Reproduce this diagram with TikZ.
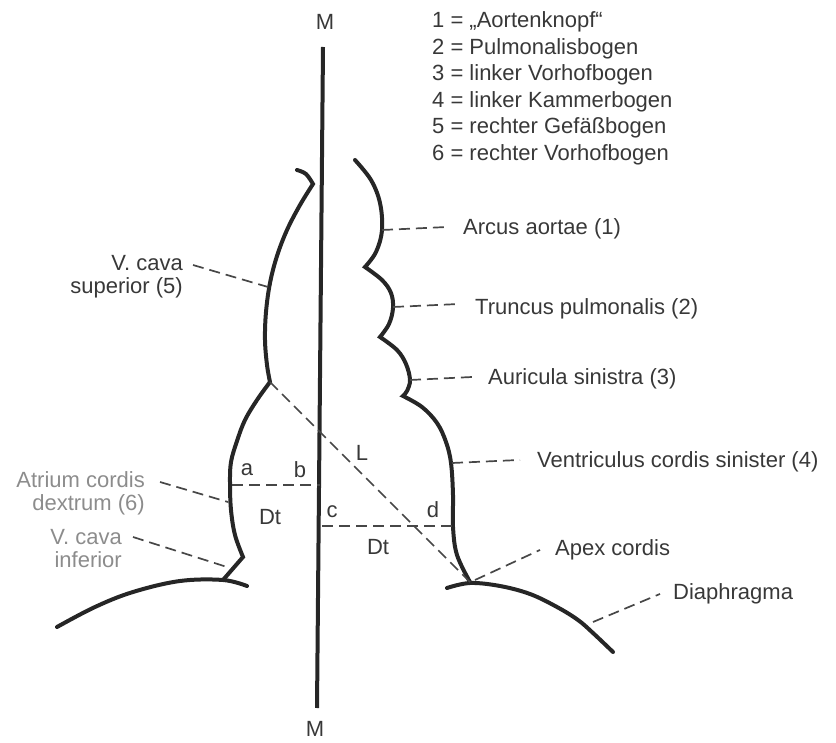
\documentclass[tikz,border=0pt]{standalone}
\usepackage{fontspec}
\setmainfont{Liberation Sans}
\usetikzlibrary{calc}
\definecolor{ink}{HTML}{262626}
\definecolor{txt}{HTML}{383838}
\definecolor{faded}{HTML}{8C8C8C}
\tikzset{
  contour/.style={draw=ink, line width=4pt, line join=miter, line cap=round},
  guide/.style={draw=ink!85, line width=1.7pt, dash pattern=on 11pt off 6pt},
  lbl/.style={text=txt, inner sep=0pt, font=\fontsize{22}{23}\selectfont},
  llbl/.style={lbl, anchor=mid west},
  rlbl/.style={lbl, anchor=east, align=right},
}
\begin{document}
\begin{tikzpicture}[x=1pt, y=-1pt]
\useasboundingbox (0,0) rectangle (836,743);

% midline M--M
\coordinate (Mtop) at (323,47);
\coordinate (Mbot) at (317,708);
\node[lbl] (Mt) at (325,22) {M};
\node[lbl] (Mb) at (315,729) {M};
\draw[ink, line width=4pt] (Mtop) -- (Mbot);

% legend
\node[llbl] (k1) at (432,25)    {1 = „Aortenknopf“};
\node[llbl] (k2) at (432,51.5)  {2 = Pulmonalisbogen};
\node[llbl] (k3) at (432,78)    {3 = linker Vorhofbogen};
\node[llbl] (k4) at (432,104.5) {4 = linker Kammerbogen};
\node[llbl] (k5) at (432,131)   {5 = rechter Gefäßbogen};
\node[llbl] (k6) at (432,157.5) {6 = rechter Vorhofbogen};

% points on the heart outline
\coordinate (pVCS) at (268,287);
\coordinate (pRA)  at (228,502);
\coordinate (pVCI) at (227,567);
\coordinate (pAA)  at (382,230);
\coordinate (pTP)  at (393,307);
\coordinate (pAS)  at (410,380);
\coordinate (pVS)  at (452,463);
\coordinate (pApex) at (470,582);
\coordinate (pDia) at (593,622);
\coordinate (pL)   at (270,382);

% right heart border (left side of the drawing)
\draw[contour]
  plot[smooth, tension=0.6] coordinates {(297,170) (306,174) (313,184)}
  -- plot[smooth, tension=0.6] coordinates {(313,184) (300,205) (287,230) (277,256) (270,283) (266,312) (265,340) (267,365) (270,382)}
  -- plot[smooth, tension=0.6] coordinates {(270,382) (257,400) (245,420) (237,441) (231,462) (230,483) (231,510) (235,535) (243,557)}
  -- (223,580);

% left heart border (right side of the drawing)
\draw[contour]
  plot[smooth, tension=0.6] coordinates {(355,160) (371,180) (380,203) (382,230) (376,252) (365,267)}
  -- plot[smooth, tension=0.6] coordinates {(365,267) (382,280) (391,293) (393,308) (389,324) (380,337)}
  -- plot[smooth, tension=0.6] coordinates {(380,337) (397,350) (406,364) (410,380) (407,391) (403,396)}
  -- plot[smooth, tension=0.6] coordinates {(403,396) (422,407) (437,423) (446,442) (451,463) (453,495) (453,527) (457,555) (470,582)};

% diaphragm
\draw[contour] plot[smooth, tension=0.6] coordinates {(57,627) (95,607) (133,592) (180,581) (223,580) (247,586)};
\draw[contour] plot[smooth, tension=0.6] coordinates {(447,588) (470,583) (500,586) (530,594) (557,607) (578,620) (593,633) (613,652)};

% transverse diameters and long axis
\coordinate (a0) at (232,485);
\coordinate (b0) at (320,485);
\coordinate (c0) at (322,526);
\coordinate (d0) at (455,526);
\draw[guide] (a0) -- (b0);
\draw[guide] (c0) -- (d0);
\draw[guide] (pL) -- (pApex);
\node[lbl] (la) at (247,470) {a};
\node[lbl] (lb) at (300,470) {b};
\node[lbl] (lc) at (332,512) {c};
\node[lbl] (ld) at (433,510) {d};
\node[lbl] (Dt1) at (270,517) {Dt};
\node[lbl] (Dt2) at (378,547) {Dt};
\node[lbl] (lL) at (362,453) {L};

% labels on the right
\node[llbl] (AA) at (463,232) {Arcus aortae (1)};
\node[llbl] (TP) at (475,312) {Truncus pulmonalis (2)};
\node[llbl] (AS) at (488,382) {Auricula sinistra (3)};
\node[llbl] (VS) at (537,465) {Ventriculus cordis sinister (4)};
\node[llbl] (AC) at (555,553) {Apex cordis};
\node[llbl] (DI) at (673,597) {Diaphragma};
\draw[guide] (pAA) -- ($(AA.west)+(-15,-2)$);
\draw[guide] (pTP) -- ($(TP.west)+(-15,-5)$);
\draw[guide] (pAS) -- ($(AS.west)+(-15,-2)$);
\draw[guide] (pVS) -- ($(VS.west)+(-17,-2)$);
\draw[guide] ($(pApex)+(5,-2)$) -- ($(AC.west)+(-15,0)$);
\draw[guide] (pDia) -- ($(DI.west)+(-13,0)$);

% labels on the left
\node[rlbl] (VCS) at (183,277) {V. cava\\superior (5)};
\node[rlbl, text=faded] (RA) at (145,493) {Atrium cordis\\dextrum (6)};
\node[rlbl, text=faded] (VCI) at (122,549) {V. cava\\inferior};
\coordinate (qVCS) at (193,265);
\coordinate (qRA)  at (160,482);
\coordinate (qVCI) at (133,537);
\draw[guide] (qVCS) -- (pVCS);
\draw[guide] (qRA) -- (pRA);
\draw[guide] (qVCI) -- (pVCI);
\end{tikzpicture}
\end{document}
